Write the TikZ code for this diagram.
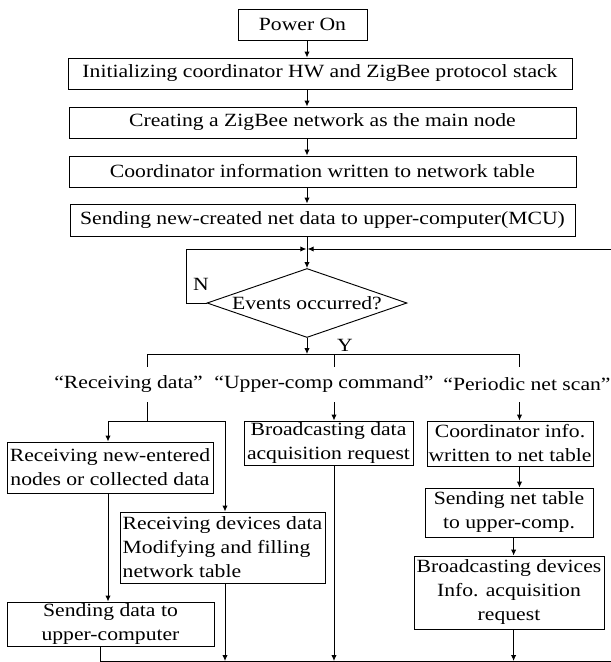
\documentclass[tikz,border=0pt]{standalone}
\usepackage{fontspec}
\setmainfont{Liberation Serif}[FakeStretch=1.16]
\usetikzlibrary{shapes.geometric,arrows.meta}

% place a rectangular box from its corner coordinates (in px)
\newcommand\flowbox[7][]{%
  \node[box,#1,minimum width={(#5-#3)*0.75pt},minimum height={(#6-#4)*0.75pt}]
    (#2) at ({(#3+#5)/2},{(#4+#6)/2}) {#7};}

\begin{document}
\begin{tikzpicture}[x=0.75pt,y=-0.75pt,
  every node/.style={font=\fontsize{14}{18}\selectfont},
  box/.style={draw,line width=0.7pt,inner sep=0pt,align=center},
  lbl/.style={inner sep=0pt,minimum height=26.25pt},
  line/.style={line width=0.7pt},
  arr/.style={line width=0.7pt,-{Latex[length=4.5pt,width=4pt]}}]

\useasboundingbox (0,0) rectangle (611,662);

% main sequence
\flowbox{power}{238}{9}{367}{40}{Power On}
\flowbox{init}{68}{58}{572}{89}{Initializing coordinator HW and ZigBee protocol stack}
\flowbox{create}{69}{107}{576}{138}{Creating a ZigBee network as the main node}
\flowbox{coord}{69}{156}{576}{187}{Coordinator information written to network table}
\flowbox{send}{70}{204}{575}{236}{Sending new-created net data to upper-computer(MCU)}

% decision
\node[draw,line width=0.7pt,diamond,inner sep=0pt,aspect=2.9,
      minimum width=150pt,minimum height=51.75pt] (dec) at (307,303) {Events occurred?};
\node[inner sep=0pt] (nlab) at (201,284) {N};
\node[inner sep=0pt] (ylab) at (345,345) {Y};

% event labels
\node[lbl] (lab1) at (128.6,384.5) {“Receiving data”};
\node[lbl] (lab2) at (324,384.5) {“Upper-comp command”};
\node[lbl] (lab3) at (527,384.5) {“Periodic net scan”};

% branch boxes
\flowbox{rn}{7}{442}{213}{493}{Receiving new-entered\\nodes or collected data}
\flowbox{sd}{7}{602}{214}{646}{Sending data to\\upper-computer}
\flowbox[align=left]{rd}{120}{512}{325}{583}{Receiving devices data\\Modifying and filling\\network table}
\flowbox{bd}{244}{421}{413}{465}{Broadcasting data\\acquisition request}
\flowbox{ci}{427}{421}{593}{466}{Coordinator info.\\written to net table}
\flowbox{st}{425}{488}{593}{537}{Sending net table\\to upper-comp.}
\flowbox{bdi}{414}{556}{604}{629}{Broadcasting devices\\Info. acquisition\\request}

% junction points
\coordinate (J) at (307,249);
\coordinate (L) at (186,249);
\coordinate (R) at (611,249);
\coordinate (s1) at (147,354);
\coordinate (s2) at (334,354);
\coordinate (s3) at (519.5,354);
\coordinate (k1) at (147,421);
\coordinate (kL) at (108,421);
\coordinate (kR) at (225,421);
\coordinate (t4) at (513.6,661);
\coordinate (b0) at (100,661);
\coordinate (bR) at (611,661);

% main sequence connectors
\draw[arr] (J |- power.south) -- (J |- init.north);
\draw[arr] (J |- init.south) -- (J |- create.north);
\draw[arr] (J |- create.south) -- (J |- coord.north);
\draw[arr] (J |- coord.south) -- (J |- send.north);
\draw[line] (J |- send.south) -- (J);
\draw[arr] (J) -- (dec.north);
\draw[arr,shorten >=0.5pt] (dec.west) -| (L) -- (J);
\draw[arr,shorten >=0.5pt] (R) -- (J);

% fan-out of events
\draw[arr] (dec.south) -- (dec.south |- s1);
\draw[line] (s1) -- (s3);
\draw[line] (s1) -- (s1 |- lab1.north);
\draw[line] (s2) -- (s2 |- lab2.north);
\draw[line] (s3) -- (s3 |- lab3.north);

% receiving data branch
\draw[line] (s1 |- lab1.south) -- (k1);
\draw[line] (kL) -- (kR);
\draw[arr] (kL) -- (kL |- rn.north);
\draw[arr] (kR) -- (kR |- rd.north);
\draw[arr] (kL |- rn.south) -- (kL |- sd.north);
\draw[arr] (kR |- rd.south) -- (kR |- b0);

% upper-computer command branch
\draw[arr] (s2 |- lab2.south) -- (s2 |- bd.north);
\draw[arr] (s2 |- bd.south) -- (s2 |- b0);

% periodic scan branch
\draw[arr] (s3 |- lab3.south) -- (s3 |- ci.north);
\draw[arr] (s3 |- ci.south) -- (s3 |- st.north);
\draw[arr] (t4 |- st.south) -- (t4 |- bdi.north);
\draw[arr] (t4 |- bdi.south) -- (t4);

% return line
\draw[line] (b0 |- sd.south) -- (b0) -- (bR);
\end{tikzpicture}
\end{document}
